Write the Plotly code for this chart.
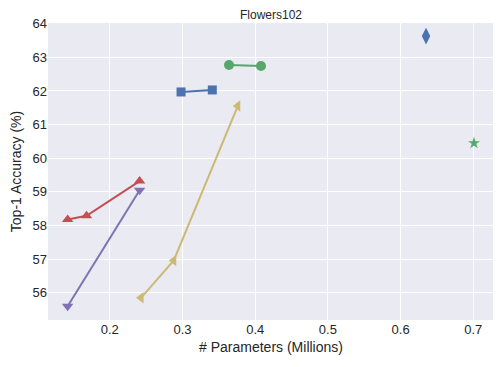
import plotly.graph_objects as go

# values
blue_x = [0.298, 0.341]
blue_y = [61.97, 62.03]
green_x = [0.364, 0.408]
green_y = [62.77, 62.74]
tan_x = [0.243, 0.288, 0.376]
tan_y = [55.85, 56.96, 61.55]
red_x = [0.142, 0.168, 0.241]
red_y = [58.18, 58.29, 59.32]
purple_x = [0.142, 0.241]
purple_y = [55.6, 59.05]
diamond_x = [0.635]
diamond_y = [63.63]
star_x = [0.701]
star_y = [60.45]

x_ticks = [0.2, 0.3, 0.4, 0.5, 0.6, 0.7]
y_ticks = [56, 57, 58, 59, 60, 61, 62, 63, 64]

series = [
    (blue_x, blue_y, '#4C72B0', 'square', 9, 'lines+markers'),
    (green_x, green_y, '#55A868', 'circle', 10, 'lines+markers'),
    (tan_x, tan_y, '#CCB974', 'triangle-left', 10, 'lines+markers'),
    (red_x, red_y, '#C44E52', 'triangle-up', 10, 'lines+markers'),
    (purple_x, purple_y, '#8172B2', 'triangle-down', 10, 'lines+markers'),
    (diamond_x, diamond_y, '#4C72B0', 'diamond-tall', 12, 'markers'),
    (star_x, star_y, '#55A868', 'star', 9, 'markers'),
]

fig = go.Figure()
for xs, ys, col, sym, sz, mode in series:
    fig.add_trace(go.Scatter(
        x=xs, y=ys, mode=mode,
        line=dict(color=col, width=2),
        marker=dict(color=col, symbol=sym, size=sz, line=dict(width=0)),
        showlegend=False,
    ))

# page body has an 8px margin, so the figure is 8px smaller than the window
W, H = 493, 359
fig.update_layout(
    width=W, height=H,
    margin=dict(l=40, r=7, t=15, b=47),
    paper_bgcolor='white',
    plot_bgcolor='#EAEAF2',
    font=dict(family='Liberation Sans, Arial, sans-serif', color='#262626'),
    title=dict(text='Flowers102', x=0.5, xanchor='center', xref='paper',
               y=1, yref='paper', yanchor='bottom', pad=dict(t=0, b=4),
               font=dict(size=12)),
)
fig.update_xaxes(
    range=[0.115, 0.7285], tickvals=x_ticks, ticktext=[str(v) for v in x_ticks],
    showgrid=True, gridcolor='white', gridwidth=1, zeroline=False,
    showline=False, ticks='', tickfont=dict(size=13), automargin=False,
    title=dict(text='# Parameters (Millions)', font=dict(size=14), standoff=6),
)
fig.update_yaxes(
    range=[55.19, 64.02], tickvals=y_ticks, ticktext=[str(v) for v in y_ticks],
    showgrid=True, gridcolor='white', gridwidth=1, zeroline=False,
    showline=False, ticks='', tickfont=dict(size=13), automargin=False,
    title=dict(text='Top-1 Accuracy (%)', font=dict(size=14), standoff=10),
)

fig.write_html("out.html")
